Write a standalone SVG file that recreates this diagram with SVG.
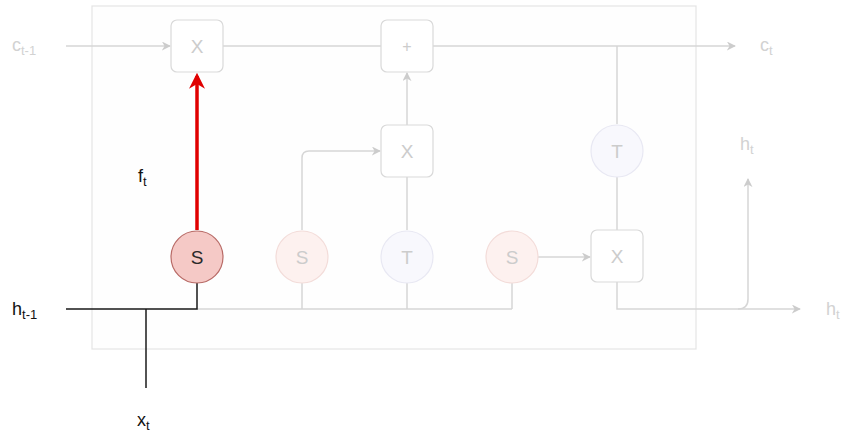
<svg xmlns="http://www.w3.org/2000/svg" width="843" height="436" viewBox="0 0 843 436">
  <style>
    .frame { fill: #fefefe; stroke: #e4e4e4; stroke-width: 1.2; }
    .op { fill: #ffffff; stroke: #d9d9d9; stroke-width: 1.2; }
    .sig { fill: #fdf1ef; stroke: #f3dcd9; stroke-width: 1.2; }
    .tanh { fill: #f8f8fd; stroke: #e8e8f3; stroke-width: 1.2; }
    .sig-on { fill: #f5c9c6; stroke: #b86a66; stroke-width: 1.2; }
    .faint { fill: none; stroke: #d6d6d6; stroke-width: 1.5; }
    .dark { fill: none; stroke: #1a1a1a; stroke-width: 1.5; }
    .hot { fill: none; stroke: #e00000; stroke-width: 3.5; }
    text { font-family: "Liberation Sans", Arial, sans-serif; }
    .lbl-faint { fill: #d2d2d2; font-size: 18px; }
    .lbl { fill: #111111; font-size: 18px; }
    .sub { font-size: 13px; }
    .op-txt { fill: #cccccc; font-size: 19px; text-anchor: middle; dominant-baseline: central; }
    .on-txt { fill: #2a2a2a; font-size: 19px; text-anchor: middle; dominant-baseline: central; }
  </style>
  <defs>
    <marker id="arrGray" viewBox="0 0 10 10" refX="9" refY="5" markerWidth="9" markerHeight="9" markerUnits="userSpaceOnUse" orient="auto">
      <path d="M0,0 L10,5 L0,10 L3,5 Z" fill="#cccccc"/>
    </marker>
    <marker id="arrRed" viewBox="0 0 10 10" refX="8" refY="5" markerWidth="16" markerHeight="16" markerUnits="userSpaceOnUse" orient="auto">
      <path d="M0,0 L10,5 L0,10 L3,5 Z" fill="#e00000"/>
    </marker>
  </defs>

  <!-- cell frame -->
  <rect id="cell" class="frame" x="92" y="6" width="604" height="343"/>

  <!-- connectors -->
  <g id="connectors">
    <!-- cell state -->
    <line class="faint" x1="66" y1="46" x2="170" y2="46" marker-end="url(#arrGray)"/>
    <line class="faint" x1="223" y1="46" x2="381" y2="46"/>
    <line class="faint" x1="433" y1="46" x2="735" y2="46" marker-end="url(#arrGray)"/>
    <!-- input gate path -->
    <path class="faint" d="M302 230 V158 Q302 151 309 151 H380" marker-end="url(#arrGray)"/>
    <line class="faint" x1="407" y1="230" x2="407" y2="177"/>
    <line class="faint" x1="407" y1="125" x2="407" y2="73" marker-end="url(#arrGray)"/>
    <!-- output gate path -->
    <line class="faint" x1="617" y1="46" x2="617" y2="124"/>
    <line class="faint" x1="617" y1="177" x2="617" y2="230"/>
    <line class="faint" x1="538" y1="257" x2="590" y2="257" marker-end="url(#arrGray)"/>
    <path class="faint" d="M617 282 V309 H800" marker-end="url(#arrGray)"/>
    <path class="faint" d="M738 309 Q748 309 748 299 V179" marker-end="url(#arrGray)"/>
    <!-- shared input bus -->
    <line class="faint" x1="197" y1="309" x2="512" y2="309"/>
    <line class="faint" x1="302" y1="283" x2="302" y2="309"/>
    <line class="faint" x1="407" y1="283" x2="407" y2="309"/>
    <line class="faint" x1="512" y1="283" x2="512" y2="309"/>
    <!-- forget gate inputs -->
    <path class="dark" d="M66 309 H197 V283"/>
    <line class="dark" x1="146" y1="309" x2="146" y2="388"/>
    <!-- forget gate output -->
    <line class="hot" x1="197" y1="230" x2="197" y2="76" marker-end="url(#arrRed)"/>
  </g>

  <!-- nodes -->
  <g id="mul-forget">
    <rect class="op" x="171" y="20" width="52" height="52" rx="6"/>
    <text class="op-txt" x="197" y="46">X</text>
  </g>
  <g id="add-cell">
    <rect class="op" x="381" y="20" width="52" height="52" rx="6"/>
    <text class="op-txt" x="407" y="46" style="font-size:16px">+</text>
  </g>
  <g id="mul-input">
    <rect class="op" x="381" y="125" width="52" height="52" rx="6"/>
    <text class="op-txt" x="407" y="151">X</text>
  </g>
  <g id="tanh-out">
    <circle class="tanh" cx="617" cy="151" r="26"/>
    <text class="op-txt" x="617" y="151">T</text>
  </g>
  <g id="sig-forget">
    <circle class="sig-on" cx="197" cy="257" r="26"/>
    <text class="on-txt" x="197" y="257">S</text>
  </g>
  <g id="sig-input">
    <circle class="sig" cx="302" cy="257" r="26"/>
    <text class="op-txt" x="302" y="257">S</text>
  </g>
  <g id="tanh-cand">
    <circle class="tanh" cx="407" cy="257" r="26"/>
    <text class="op-txt" x="407" y="257">T</text>
  </g>
  <g id="sig-output">
    <circle class="sig" cx="512" cy="257" r="26"/>
    <text class="op-txt" x="512" y="257">S</text>
  </g>
  <g id="mul-output">
    <rect class="op" x="591" y="230" width="52" height="52" rx="6"/>
    <text class="op-txt" x="617" y="256">X</text>
  </g>

  <!-- labels -->
  <g id="labels">
    <text class="lbl-faint" x="12" y="51">c<tspan class="sub" dy="4">t-1</tspan></text>
    <text class="lbl-faint" x="760" y="51">c<tspan class="sub" dy="4">t</tspan></text>
    <text class="lbl-faint" x="740" y="150">h<tspan class="sub" dy="4">t</tspan></text>
    <text class="lbl-faint" x="826" y="315">h<tspan class="sub" dy="4">t</tspan></text>
    <text class="lbl" x="12" y="315">h<tspan class="sub" dy="4">t-1</tspan></text>
    <text class="lbl" x="138" y="182">f<tspan class="sub" dy="4">t</tspan></text>
    <text class="lbl" x="137" y="426">x<tspan class="sub" dy="4">t</tspan></text>
  </g>
</svg>
